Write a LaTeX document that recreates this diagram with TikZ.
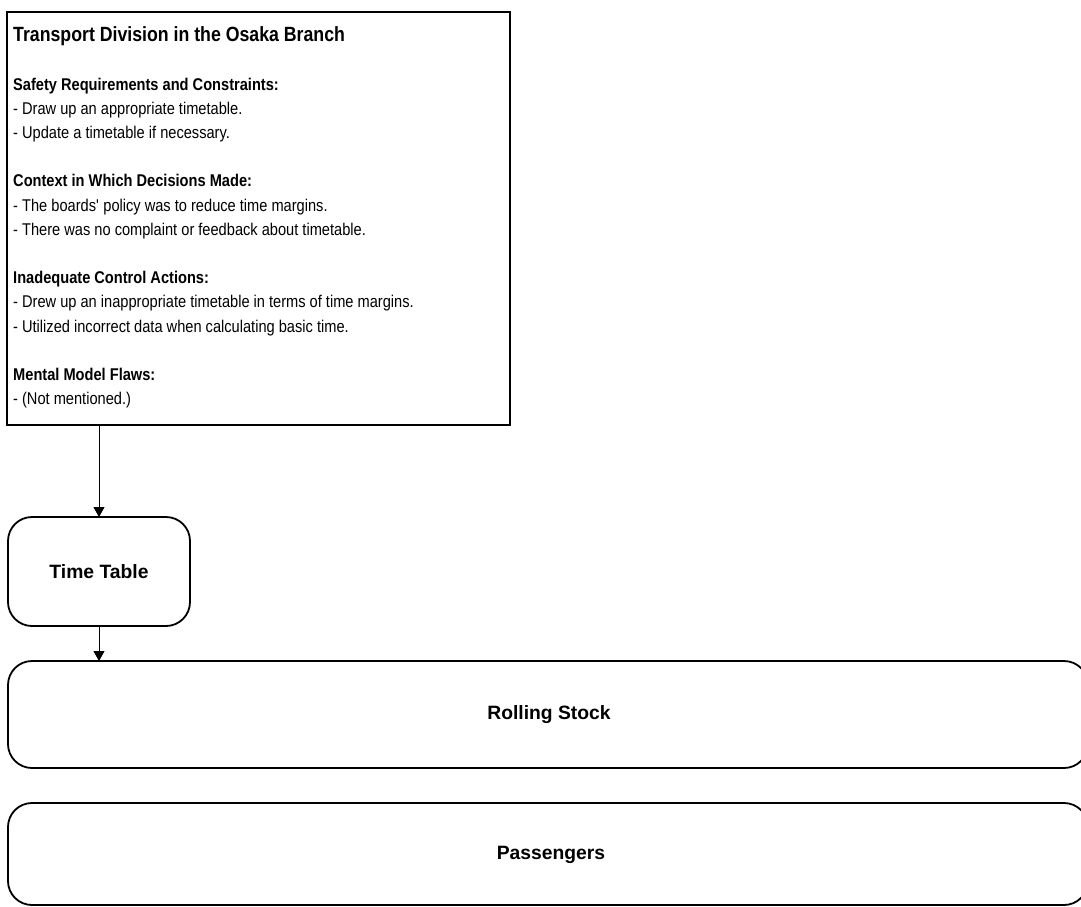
\documentclass[tikz,border=0pt]{standalone}
\usepackage{fontspec}
\setmainfont{Liberation Sans}[FakeStretch=0.86]
\newfontfamily\labelfont{Liberation Sans}
\usetikzlibrary{arrows.meta}
\tikzset{
  frame/.style={draw=black, line width=1.8pt, fill=white},
  roundbox/.style={frame, rounded corners=24pt},
  flow/.style={draw=black, line width=0.9pt, -{Triangle[length=10pt,width=11pt]}},
  bodytext/.style={inner sep=0pt, align=left, font=\fontsize{17}{24.2}\selectfont},
  boxlabel/.style={font=\labelfont\fontsize{19.3}{22}\selectfont\bfseries},
}
\begin{document}
\begin{tikzpicture}[x=1pt, y=-1pt]
  \useasboundingbox (0,0) rectangle (1081,907);

  % controller box
  \draw[frame] (7,12) rectangle (510,425);
  \node[anchor=base west, inner sep=0pt, font=\fontsize{20.6}{24}\selectfont\bfseries] (title)
    at (13,42) {Transport Division in the Osaka Branch};
  \node[bodytext, anchor=north west] (body) at (13,77.5) {%
    \textbf{Safety Requirements and Constraints:}\\
    - Draw up an appropriate timetable.\\
    - Update a timetable if necessary.\\[24.2pt]
    \textbf{Context in Which Decisions Made:}\\
    - The boards\textquotesingle{} policy was to reduce time margins.\\
    - There was no complaint or feedback about timetable.\\[24.2pt]
    \textbf{Inadequate Control Actions:}\\
    - Drew up an inappropriate timetable in terms of time margins.\\
    - Utilized incorrect data when calculating basic time.\\[24.2pt]
    \textbf{Mental Model Flaws:}\\
    - (Not mentioned.)};

  % controlled elements
  \draw[roundbox] (8,517) rectangle (190,626);
  \node[boxlabel] (tt) at (99,571.5) {Time Table};

  \draw[roundbox] (8,661) rectangle (1088,768);
  \node[boxlabel] (rs) at (549,714.5) {Rolling Stock};

  \draw[roundbox] (8,803) rectangle (1088,905);
  \node[boxlabel] (pa) at (551,855) {Passengers};

  % control flow
  \coordinate (ctrlout) at (99,425);
  \coordinate (ttin) at (99,517);
  \coordinate (ttout) at (99,626);
  \coordinate (rsin) at (99,661);
  \draw[flow] (ctrlout) -- (ttin);
  \draw[flow] (ttout) -- (rsin);
\end{tikzpicture}
\end{document}
